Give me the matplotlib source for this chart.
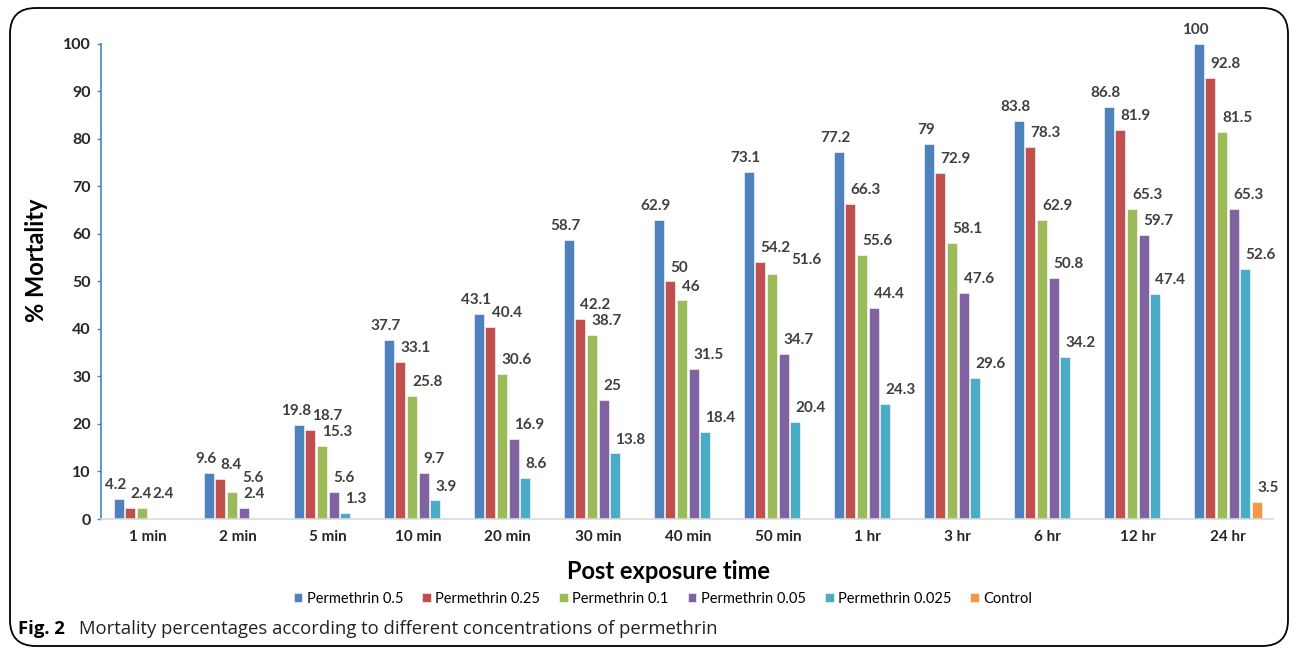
import numpy as np
import matplotlib.pyplot as plt
from matplotlib.patches import FancyBboxPatch

categories = ['1 min', '2 min', '5 min', '10 min', '20 min', '30 min', '40 min',
              '50 min', '1 hr', '3 hr', '6 hr', '12 hr', '24 hr']
series_names = ['Permethrin 0.5', 'Permethrin 0.25', 'Permethrin 0.1',
                'Permethrin 0.05', 'Permethrin 0.025', 'Control']
p050 = [4.2, 9.6, 19.8, 37.7, 43.1, 58.7, 62.9, 73.1, 77.2, 79, 83.8, 86.8, 100]
p025 = [2.4, 8.4, 18.7, 33.1, 40.4, 42.2, 50, 54.2, 66.3, 72.9, 78.3, 81.9, 92.8]
p010 = [2.4, 5.6, 15.3, 25.8, 30.6, 38.7, 46, 51.6, 55.6, 58.1, 62.9, 65.3, 81.5]
p005 = [0, 2.4, 5.6, 9.7, 16.9, 25, 31.5, 34.7, 44.4, 47.6, 50.8, 59.7, 65.3]
p0025 = [0, 0, 1.3, 3.9, 8.6, 13.8, 18.4, 20.4, 24.3, 29.6, 34.2, 47.4, 52.6]
control = [0, 0, 0, 0, 0, 0, 0, 0, 0, 0, 0, 0, 3.5]
colors = ['#4F81BD', '#C0504D', '#9BBB59', '#8064A2', '#4BACC6', '#F79646']

plt.rcParams['font.family'] = ['Lato', 'DejaVu Sans']

fig = plt.figure(figsize=(12.92, 6.49), dpi=100)
ax = fig.add_axes([0.0782, 0.2003, 0.907, 0.732])

x = np.arange(len(categories))
slot = 0.13
width = 0.11
all_series = [p050, p025, p010, p005, p0025, control]
labels = {}  # (group, series) -> annotation
for i, (vals, name, c) in enumerate(zip(all_series, series_names, colors)):
    pos = x + (i - 2.5) * slot
    ax.bar(pos, vals, width, color=c, label=name, edgecolor='white', linewidth=0.4)
    for g, (px, v) in enumerate(zip(pos, vals)):
        if v == 0:
            continue
        if i == 0:
            a = ax.annotate(f'{v:g}', (px, v), xytext=(-2, 5), textcoords='offset points',
                            ha='center', va='bottom', fontsize=11, fontweight='bold',
                            color='#404040')
        else:
            a = ax.annotate(f'{v:g}', (px - width / 2, v), xytext=(3.5, 5),
                            textcoords='offset points', ha='left', va='bottom',
                            fontsize=11, fontweight='bold', color='#404040')
        labels[(g, i)] = a

ax.set_xlim(-0.52, 12.5)
ax.set_ylim(0, 100)
ax.set_yticks(range(0, 101, 10))
ax.set_xticks(x)
ax.set_xticklabels(categories, fontsize=11, fontweight='bold', color='#262626')
for t in ax.get_yticklabels():
    t.set_fontsize(11.5)
    t.set_fontweight('bold')
    t.set_color('#262626')
ax.tick_params(axis='x', length=0, pad=8)
ax.tick_params(axis='y', length=3, color='#4F81BD', width=1, pad=4.5)

ax.spines['top'].set_visible(False)
ax.spines['right'].set_visible(False)
ax.spines['left'].set_color('#4F81BD')
ax.spines['left'].set_linewidth(1.2)
ax.spines['bottom'].set_color('#D9D9D9')
ax.spines['bottom'].set_linewidth(1.2)

ax.set_ylabel('% Mortality', fontsize=17, fontweight='bold')
ax.yaxis.set_label_coords(-0.045, 0.545)
ax.set_xlabel('Post exposure time', fontsize=17, fontweight='bold')
ax.xaxis.set_label_coords(0.484, -0.087)

fig.legend(*ax.get_legend_handles_labels(), loc='center',
           bbox_to_anchor=(663 / 1292, 1 - 599 / 649), ncol=6, frameon=False,
           fontsize=10.5, handlelength=0.6, handleheight=0.6, handletextpad=0.3,
           columnspacing=1.3, borderaxespad=0)

# caption
fig.text(0.014, 1 - 629 / 649, 'Fig. 2', fontsize=13.3, fontweight='bold',
         family=['Open Sans', 'DejaVu Sans'], va='center')
fig.text(0.0615, 1 - 629 / 649,
         'Mortality percentages according to different concentrations of permethrin',
         fontsize=13.3, family=['Open Sans', 'DejaVu Sans'], va='center', color='#222222')

# rounded frame around the figure
box = FancyBboxPatch((10 / 1292, 3 / 649), 1278 / 1292, 638 / 649,
                     boxstyle='round,pad=0,rounding_size=0.02',
                     transform=fig.transFigure, fill=False, edgecolor='black',
                     linewidth=1.3, mutation_aspect=1292 / 649)
fig.patches.append(box)

# push a label to the right when it runs into its neighbour (like Excel does)
fig.canvas.draw()
r = fig.canvas.get_renderer()
for g in range(len(categories)):
    prev = None
    for i in range(len(all_series)):
        a = labels.get((g, i))
        if a is None:
            continue
        if prev is not None:
            bb = a.get_window_extent(r)
            pb = prev.get_window_extent(r)
            if bb.overlaps(pb) and bb.x0 < pb.x1:
                shift = (pb.x1 - bb.x0 + 1) * 72 / fig.dpi
                ox, oy = a.xyann
                a.xyann = (ox + shift, oy)
        prev = a

fig.savefig('out.png', dpi=100)
